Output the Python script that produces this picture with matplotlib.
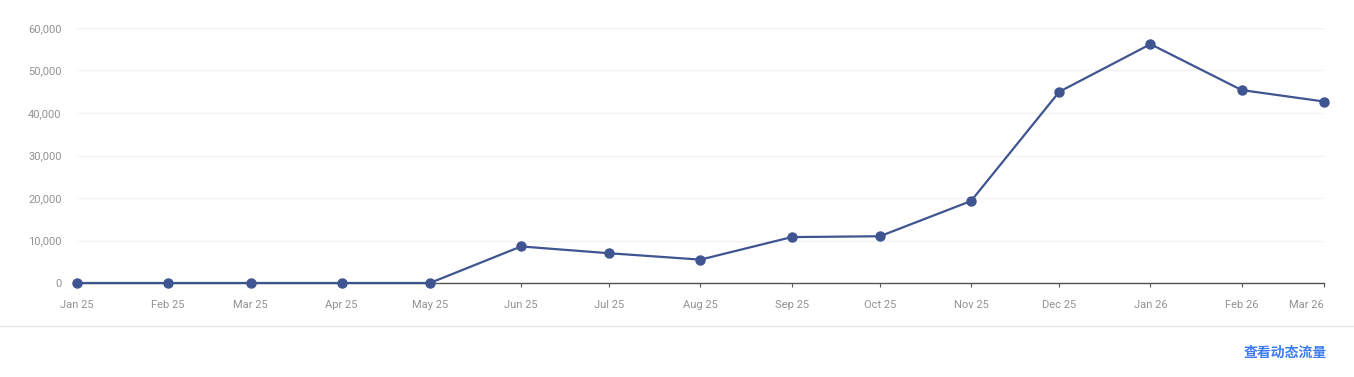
import pandas as pd
import numpy as np
import matplotlib.pyplot as plt
import matplotlib.dates as mdates
from matplotlib.ticker import FuncFormatter

plt.rcParams['font.family'] = ['Roboto', 'Noto Sans CJK SC', 'DejaVu Sans']

months = pd.date_range('2025-01-01', '2026-03-01', freq='MS')
visits = [0, 0, 0, 0, 0, 8600, 7000, 5500, 10800, 11000, 19300, 45000, 56200, 45400, 42700]
tick_labels = [d.strftime('%b %y') for d in months]
y_ticks = [0, 10000, 20000, 30000, 40000, 50000, 60000]

fig = plt.figure(figsize=(13.54, 3.77), dpi=100)
ax = fig.add_axes([77 / 1354, 1 - 283 / 377, (1324 - 77) / 1354, 255 / 377])

ax.plot(months, visits, color='#3f5591', lw=1.6, marker='o', ms=6.5, zorder=3, clip_on=False)

ax.set_xlim(months[0], months[-1])
ax.set_ylim(0, 60000)
ax.set_yticks(y_ticks)
ax.yaxis.set_major_formatter(FuncFormatter(lambda v, p: f'{int(v):,}'))
ax.set_xticks(months)
ax.set_xticklabels(tick_labels)
# last label is pulled inside the plot edge
ax.get_xticklabels()[-1].set_horizontalalignment('right')

ax.grid(axis='y', color='#f2f2f2', lw=1)
ax.set_axisbelow(True)
for s in ['top', 'right', 'left']:
    ax.spines[s].set_visible(False)
ax.spines['bottom'].set_color('#555555')
ax.spines['bottom'].set_linewidth(1)
ax.tick_params(axis='y', length=0, pad=11, labelsize=8, labelcolor='#929292')
ax.tick_params(axis='x', length=3, color='#555555', pad=9.5, labelsize=8, labelcolor='#929292')

# separator line and link text
fig.add_artist(plt.Line2D([0, 1], [1 - 326 / 377] * 2, color='#e6e6e6', lw=1))
fig.text(1327 / 1354, 1 - 353 / 377, '查看动态流量', ha='right', va='center',
         color='#3d7bf2', fontsize=10, fontweight='bold',
         family=['Noto Sans CJK SC', 'DejaVu Sans'])

fig.savefig('out.png', dpi=100, facecolor='white')
